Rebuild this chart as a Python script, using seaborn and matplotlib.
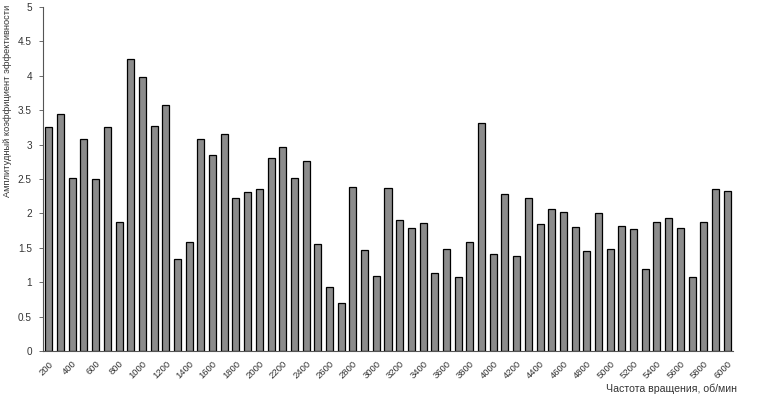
import numpy as np
import pandas as pd
import seaborn as sns
import matplotlib.pyplot as plt
from matplotlib.transforms import ScaledTranslation

# Данные: частота вращения и амплитудный коэффициент эффективности
chastota = list(range(200, 6001, 100))
koef = [
    3.25, 3.44, 2.51, 3.08, 2.50, 3.25, 1.87, 4.24, 3.98, 3.27,
    3.58, 1.34, 1.58, 3.08, 2.85, 3.16, 2.23, 2.31, 2.35,
    2.81, 2.96, 2.51, 2.76, 1.55, 0.93, 0.70, 2.38, 1.47, 1.09,
    2.37, 1.91, 1.79, 1.86, 1.13, 1.48, 1.07, 1.59, 3.31,
    1.41, 2.28, 1.38, 2.23, 1.85, 2.07, 2.02, 1.80, 1.45, 2.00,
    1.48, 1.82, 1.77, 1.19, 1.87, 1.94, 1.79, 1.08, 1.88, 2.35, 2.32,
]
y_ticks = np.arange(0, 5.01, 0.5)

sns.set_style("white")
plt.rcParams["font.family"] = ["Liberation Sans", "DejaVu Sans"]

df = pd.DataFrame({"Частота": [str(c) for c in chastota], "Коэф": koef})

fig = plt.figure(figsize=(7.58, 3.95), dpi=100)
ax = fig.add_axes([43 / 758, 44 / 395, 690 / 758, 344 / 395])

sns.barplot(data=df, x="Частота", y="Коэф", order=df["Частота"], color="#8c8c8c",
            edgecolor="black", linewidth=0.9, width=0.6, saturation=1, ax=ax)

ax.set_xlim(-0.5, len(chastota) - 0.5)
ax.set_ylim(0, 5)
ax.set_yticks(y_ticks)
ax.set_yticklabels([f"{v:g}" for v in y_ticks], fontsize=7.2, color="#333333")

pos = list(range(0, len(chastota), 2))
ax.set_xticks(pos)
ax.set_xticklabels([chastota[i] for i in pos], rotation=45, ha="right",
                   rotation_mode="anchor", fontsize=6.8, color="#333333")
shift = ScaledTranslation(-3 / 100, 0, fig.dpi_scale_trans)
for lbl in ax.get_xticklabels():
    lbl.set_transform(lbl.get_transform() + shift)
ax.set_xticks(np.arange(-0.5, len(chastota), 1), minor=True)
ax.tick_params(axis="x", which="major", length=0, pad=6)
ax.tick_params(axis="x", which="minor", length=3, width=0.6, color="#555555", direction="out")
ax.tick_params(axis="y", length=3, width=0.6, color="#555555", direction="out", left=True, pad=5)

for s in ["top", "right"]:
    ax.spines[s].set_visible(False)
for s in ["left", "bottom"]:
    ax.spines[s].set_color("#555555")
    ax.spines[s].set_linewidth(0.8)

ax.set_xlabel("")
ax.set_ylabel("")
fig.text(8 / 758, 1 - 101 / 395, "Амплитудный коэффициент эффективности",
         rotation=90, ha="center", va="center", fontsize=6.7, color="#333333")
fig.text(737 / 758, 1 - 389 / 395, "Частота вращения, об/мин",
         ha="right", va="center", fontsize=7.6, color="#333333")

fig.savefig("out.png", dpi=100)
